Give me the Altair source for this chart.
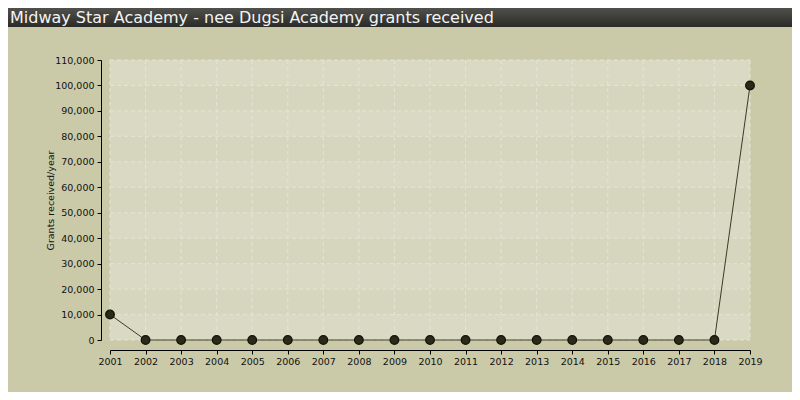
import altair as alt
import pandas as pd

years = list(range(2001, 2020))
grants = [10000] + [0] * 17 + [100000]
y_ticks = list(range(0, 110001, 10000))
band_starts = [0, 20000, 40000, 60000, 80000, 100000]
title_text = "Midway Star Academy - nee Dugsi Academy grants received"
y_title = "Grants received/year"

df = pd.DataFrame({"year": years, "grants": grants})
bands = pd.DataFrame({"y0": band_starts, "y1": [b + 10000 for b in band_starts]})
ticks_df = pd.DataFrame({"t": y_ticks})

W, H = 640, 280
FONT = "DejaVu Sans"

xscale = alt.Scale(domain=[2001, 2019], nice=False, zero=False)
yscale = alt.Scale(domain=[0, 110000], nice=False)

xaxis = alt.Axis(values=years, format="d", title=None, offset=10, grid=False,
                 domainColor="#000", tickColor="#000", tickSize=4,
                 labelFont=FONT, labelFontSize=9.5, labelColor="#111", labelPadding=2,
                 labelFlush=False)
yaxis = alt.Axis(values=y_ticks, format=",d", title=y_title, offset=9, grid=False,
                 domainColor="#000", tickColor="#000", tickSize=4,
                 labelFont=FONT, labelFontSize=9.5, labelColor="#111", labelPadding=3,
                 titleFont=FONT, titleFontSize=9.5, titleFontWeight="normal",
                 titleColor="#111", titlePadding=-1)

band_layer = alt.Chart(bands).mark_rect(color="#dcdcc8", opacity=0.6).encode(
    x=alt.value(0), x2=alt.value(W),
    y=alt.Y("y0:Q", scale=yscale, axis=yaxis),
    y2="y1:Q",
)

grid_v = alt.Chart(df).mark_rule(color="#e4e4d6", strokeDash=[4, 3], strokeWidth=1).encode(
    x=alt.X("year:Q", scale=xscale, axis=xaxis),
    y=alt.value(0), y2=alt.value(H),
)
grid_h = alt.Chart(ticks_df).mark_rule(color="#e4e4d6", strokeDash=[4, 3], strokeWidth=1).encode(
    y=alt.Y("t:Q", scale=yscale, axis=yaxis),
    x=alt.value(0), x2=alt.value(W),
)

line = alt.Chart(df).mark_line(color="#3a3a28", strokeWidth=1).encode(
    x=alt.X("year:Q", scale=xscale, axis=xaxis),
    y=alt.Y("grants:Q", scale=yscale, axis=yaxis),
)
points = alt.Chart(df).mark_point(filled=True, size=75, color="#2a2a18", stroke="#111108",
                                  strokeWidth=1.2, opacity=1).encode(
    x=alt.X("year:Q", scale=xscale, axis=xaxis),
    y=alt.Y("grants:Q", scale=yscale, axis=yaxis),
)

title_bar = alt.Chart(pd.DataFrame({"t": [title_text]})).mark_rect(
    color=alt.Gradient(gradient="linear", x1=0, y1=0, x2=0, y2=1,
                       stops=[alt.GradientStop(color="#50504c", offset=0),
                              alt.GradientStop(color="#2a2a28", offset=1)]),
).encode(x=alt.value(-102), x2=alt.value(W + 42), y=alt.value(-52), y2=alt.value(-33))

title = alt.Chart(pd.DataFrame({"t": [title_text]})).mark_text(
    font=FONT, fontSize=16, color="#f4f4f4", align="left", baseline="alphabetic",
).encode(text="t:N", x=alt.value(-100), y=alt.value(-37))

chart = alt.layer(band_layer, grid_v, grid_h, line, points, title_bar, title).properties(
    width=W, height=H,
    autosize=alt.AutoSizeParams(type="none"),
    padding={"left": 102, "top": 52, "right": 42, "bottom": 52},
    background="#cacaa8",
).configure_view(stroke=None, fill="#d6d6be")

chart.save("out.html", embed_options={"renderer": "svg", "actions": False})
